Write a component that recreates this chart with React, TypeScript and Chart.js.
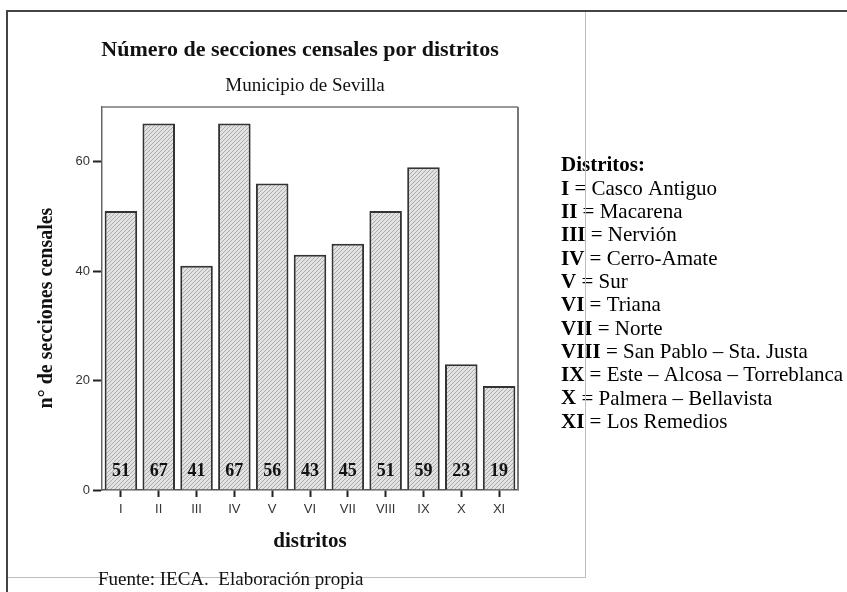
import React, { useEffect, useRef } from 'react';
import { Chart, registerables } from 'chart.js';

Chart.register(...registerables);

const SERIF = "'Liberation Serif', 'Times New Roman', serif";
const SANS = "'Liberation Sans', Arial, sans-serif";

const districts = ['I', 'II', 'III', 'IV', 'V', 'VI', 'VII', 'VIII', 'IX', 'X', 'XI'];
const sections = [51, 67, 41, 67, 56, 43, 45, 51, 59, 23, 19];
const yTicks = [0, 20, 40, 60];
const districtNames = [
  'Casco Antiguo',
  'Macarena',
  'Nervión',
  'Cerro-Amate',
  'Sur',
  'Triana',
  'Norte',
  'San Pablo – Sta. Justa',
  'Este – Alcosa – Torreblanca',
  'Palmera – Bellavista',
  'Los Remedios',
];
const titleText = 'Número de secciones censales por distritos';
const subtitleText = 'Municipio de Sevilla';
const yTitleText = 'n° de secciones censales';
const xTitleText = 'distritos';
const legendTitleText = 'Distritos:';
const sourceText = 'Fuente: IECA.  Elaboración propia';

function makeHatch(): CanvasPattern | string {
  const tile = document.createElement('canvas');
  tile.width = 4;
  tile.height = 4;
  const t = tile.getContext('2d');
  if (!t) return '#cccccc';
  t.fillStyle = '#e2e2e2';
  t.fillRect(0, 0, 4, 4);
  t.strokeStyle = '#a6a6a6';
  t.lineWidth = 0.9;
  for (const c of [0, 4, 8]) {
    t.beginPath();
    t.moveTo(c + 1, -1);
    t.lineTo(-1, c + 1);
    t.stroke();
  }
  const p = t.createPattern(tile, 'repeat');
  return p || '#cccccc';
}

const decoPlugin = {
  id: 'deco',
  afterDatasetsDraw(chart: any) {
    const ctx = chart.ctx as CanvasRenderingContext2D;
    const meta = chart.getDatasetMeta(0);
    const base = chart.scales.y.getPixelForValue(0);
    ctx.save();
    ctx.font = `bold 18px ${SERIF}`;
    ctx.fillStyle = '#111';
    ctx.textAlign = 'center';
    ctx.textBaseline = 'middle';
    meta.data.forEach((el: any, i: number) => {
      ctx.fillText(String(sections[i]), el.x, base - 19);
    });
    ctx.restore();
  },
  afterDraw(chart: any) {
    const ctx = chart.ctx as CanvasRenderingContext2D;
    const a = chart.chartArea;
    ctx.save();

    // plot box: top and right edges
    ctx.strokeStyle = '#777';
    ctx.lineWidth = 1.5;
    ctx.beginPath();
    ctx.moveTo(a.left, a.top);
    ctx.lineTo(a.right, a.top);
    ctx.stroke();
    ctx.lineWidth = 2;
    ctx.beginPath();
    ctx.moveTo(a.right, a.top);
    ctx.lineTo(a.right, a.bottom);
    ctx.stroke();

    // titles
    ctx.fillStyle = '#111';
    ctx.textAlign = 'center';
    ctx.textBaseline = 'middle';
    ctx.font = `bold 22px ${SERIF}`;
    ctx.fillText(titleText, 300, 50);
    ctx.font = `19px ${SERIF}`;
    ctx.fillText(subtitleText, 305, 86);

    // y axis title
    ctx.save();
    ctx.translate(47, 308);
    ctx.rotate(-Math.PI / 2);
    ctx.font = `bold 20px ${SERIF}`;
    ctx.fillText(yTitleText, 0, 0);
    ctx.restore();

    // legend list
    ctx.textAlign = 'left';
    ctx.fillStyle = '#000';
    const lx = 561;
    const ly = 166;
    const step = 23.3;
    ctx.font = `bold 21px ${SERIF}`;
    ctx.fillText(legendTitleText, lx, ly);
    districts.forEach((d, i) => {
      const yy = ly + (i + 1) * step;
      ctx.font = `bold 21px ${SERIF}`;
      ctx.fillText(d, lx, yy);
      const w = ctx.measureText(d).width;
      ctx.font = `21px ${SERIF}`;
      ctx.fillText(' = ' + districtNames[i], lx + w, yy);
    });

    // light inner frame
    ctx.strokeStyle = '#bdbdbd';
    ctx.lineWidth = 1;
    ctx.beginPath();
    ctx.moveTo(585.5, 12);
    ctx.lineTo(585.5, 577.5);
    ctx.lineTo(7, 577.5);
    ctx.stroke();

    // source
    ctx.fillStyle = '#111';
    ctx.textBaseline = 'alphabetic';
    ctx.font = `19px ${SERIF}`;
    ctx.fillText(sourceText, 98, 585);

    // dark outer frame
    ctx.strokeStyle = '#444';
    ctx.lineWidth = 2;
    ctx.beginPath();
    ctx.moveTo(847, 11);
    ctx.lineTo(7, 11);
    ctx.lineTo(7, 592);
    ctx.stroke();

    ctx.restore();
  },
};

export default function App() {
  const ref = useRef<HTMLCanvasElement>(null);

  useEffect(() => {
    const canvas = ref.current;
    if (!canvas) return;
    const hatch = makeHatch();
    const chart = new Chart(canvas, {
      type: 'bar',
      data: {
        labels: districts,
        datasets: [
          {
            data: sections,
            backgroundColor: hatch as any,
            borderColor: '#333',
            borderWidth: 2,
            barPercentage: 0.86,
            categoryPercentage: 1,
          },
        ],
      },
      options: {
        responsive: false,
        maintainAspectRatio: false,
        animation: false,
        devicePixelRatio: 1,
        events: [],
        layout: { padding: { left: 60, right: 329, top: 107, bottom: 32 } },
        plugins: {
          legend: { display: false },
          tooltip: { enabled: false },
          title: { display: false },
        },
        scales: {
          x: {
            type: 'category',
            offset: true,
            afterFit: (s: any) => {
              s.height = 70;
            },
            grid: {
              offset: false,
              drawOnChartArea: false,
              drawTicks: true,
              tickLength: 7,
              tickWidth: 2,
              tickColor: '#222',
            },
            border: { display: true, color: '#555', width: 1.5 },
            ticks: {
              font: { family: SANS, size: 13 },
              color: '#333',
              padding: 5,
              maxRotation: 0,
              autoSkip: false,
            },
            title: {
              display: true,
              text: xTitleText,
              font: { family: SERIF, size: 21, weight: 'bold' },
              color: '#111',
              padding: { top: 0, bottom: 6 },
            },
          },
          y: {
            type: 'linear',
            min: 0,
            max: 70,
            afterFit: (s: any) => {
              s.width = 42;
            },
            afterBuildTicks: (s: any) => {
              s.ticks = yTicks.map((v) => ({ value: v }));
            },
            grid: {
              drawOnChartArea: false,
              drawTicks: true,
              tickLength: 9,
              tickWidth: 2,
              tickColor: '#222',
            },
            border: { display: true, color: '#666', width: 1.5 },
            ticks: {
              font: { family: SANS, size: 13 },
              color: '#333',
              padding: 3,
            },
          },
        },
      },
      plugins: [decoPlugin],
    });
    return () => chart.destroy();
  }, []);

  return (
    <div style={{ position: 'absolute', left: 0, top: 0, width: 847, height: 592, background: '#fff' }}>
      <canvas ref={ref} width={847} height={592} style={{ display: 'block', width: 847, height: 592 }} />
    </div>
  );
}
